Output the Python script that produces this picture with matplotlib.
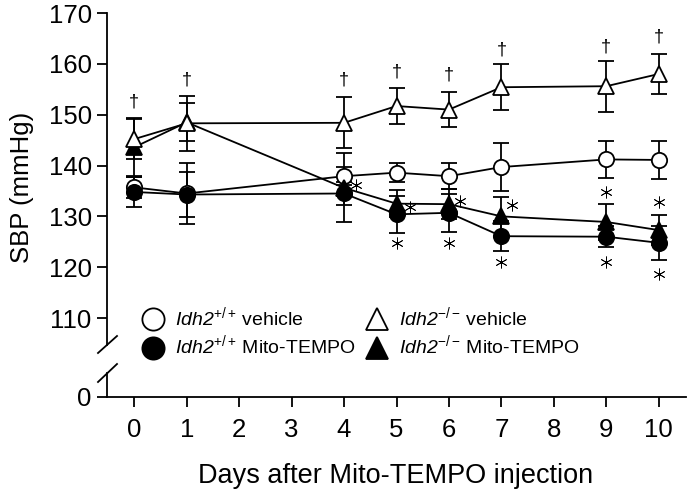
import matplotlib
matplotlib.use('Agg')
import matplotlib.pyplot as plt
from matplotlib.lines import Line2D

plt.rcParams['font.family'] = ['Liberation Sans', 'DejaVu Sans']
plt.rcParams['mathtext.fontset'] = 'custom'
plt.rcParams['mathtext.rm'] = 'Liberation Sans'
plt.rcParams['mathtext.sf'] = 'Liberation Sans:italic'

# Данные (SBP, mmHg)
days = [0, 1, 4, 5, 6, 7, 9, 10]
wt_vehicle = [135.7, 134.5, 137.9, 138.6, 137.9, 139.7, 141.2, 141.1]
wt_vehicle_err = [2.0, 6.0, 1.8, 1.9, 2.6, 4.8, 3.7, 3.7]
ko_vehicle = [145.2, 148.3, 148.4, 151.7, 151.0, 155.4, 155.6, 158.0]
ko_vehicle_err = [4.0, 5.4, 5.0, 3.6, 3.4, 4.5, 5.0, 3.9]
wt_mito = [134.8, 134.3, 134.5, 130.4, 130.7, 126.1, 126.0, 124.8]
wt_mito_err = [3.0, 4.5, 2.2, 3.7, 3.7, 2.9, 2.1, 3.3]
ko_mito = [143.6, 148.5, 135.6, 132.5, 132.4, 130.0, 128.9, 127.3]
ko_mito_err = [5.7, 3.7, 6.8, 2.7, 2.9, 3.8, 3.6, 2.9]

# значимость: † (ko vehicle), * (Mito-TEMPO)
dagger_days = [0, 1, 4, 5, 6, 7, 9, 10]
dagger_y = [152.5, 156.8, 156.8, 158.4, 157.8, 162.7, 163.4, 165.2]
star_x = [4.22, 5.25, 6.22, 7.21, 9, 10, 5, 6, 7, 9, 10]
star_y = [136.1, 131.9, 133.0, 132.2, 134.8, 132.9, 124.8, 124.7, 121.0, 121.0, 118.6]

xticks = list(range(0, 11))
yticks = [110, 120, 130, 140, 150, 160, 170]

W, H = 688, 490
def box(l, t, r, b):
    return [l / W, 1 - b / H, (r - l) / W, (b - t) / H]

fig = plt.figure(figsize=(W / 100, H / 100), dpi=100)
ax = fig.add_axes(box(107, 13, 686, 345))
axb = fig.add_axes(box(107, 373, 686, 397), sharex=ax)

lw = 1.3
series = [
    (wt_vehicle, wt_vehicle_err, 'o', 'white'),
    (wt_mito, wt_mito_err, 'o', 'black'),
    (ko_mito, ko_mito_err, '^', 'black'),
    (ko_vehicle, ko_vehicle_err, '^', 'white'),
]
for vals, err, m, fc in series:
    ax.errorbar(days, vals, yerr=err, fmt='none', ecolor='black',
                elinewidth=lw, capsize=6, capthick=lw, zorder=2)
for vals, err, m, fc in series:
    ax.plot(days, vals, color='black', lw=lw, marker=m, markersize=11,
            markerfacecolor=fc, markeredgecolor='black', markeredgewidth=lw,
            zorder=3)

for d, y in zip(dagger_days, dagger_y):
    ax.text(d, y, '\u2020', ha='center', va='center', fontsize=13)
# звёздочки - шестилучевой маркер
ax.plot(star_x, star_y, ls='none', marker=(6, 2, 0), markersize=8.5,
        markeredgewidth=0.6, color='black', zorder=4)

ax.set_xlim(-0.52, 10.52)
ax.set_ylim(104.7, 170)
ax.set_yticks(yticks)
ax.spines[['top', 'right', 'bottom']].set_visible(False)
ax.spines['left'].set_linewidth(lw)
ax.tick_params(axis='x', bottom=False, labelbottom=False)
ax.tick_params(axis='y', direction='out', length=7, width=lw, pad=4,
               labelsize=18.5)

axb.set_ylim(0, 5)
axb.set_yticks([0])
axb.set_xticks(xticks)
axb.spines[['top', 'right']].set_visible(False)
axb.spines[['left', 'bottom']].set_linewidth(lw)
axb.tick_params(axis='both', direction='out', length=7, width=lw,
                labelsize=18.5)
axb.tick_params(axis='x', pad=8)
axb.tick_params(axis='y', pad=4)
axb.patch.set_visible(False)

# разрыв оси
for y0, y1 in [(353, 336), (382, 364)]:
    fig.add_artist(Line2D([98 / W, 117 / W], [1 - y0 / H, 1 - y1 / H],
                          color='black', lw=lw, transform=fig.transFigure))

fig.text(22 / W, 1 - 187 / H, 'SBP (mmHg)', rotation=90, ha='center',
         va='center', fontsize=18.5)
fig.text(396 / W, 1 - 483 / H, 'Days after Mito-TEMPO injection',
         ha='center', va='baseline', fontsize=19.5)

handles = [
    Line2D([], [], ls='none', marker='o', ms=16, mfc='white', mec='black', mew=lw),
    Line2D([], [], ls='none', marker='o', ms=16, mfc='black', mec='black', mew=lw),
    Line2D([], [], ls='none', marker='^', ms=16, mfc='white', mec='black', mew=lw),
    Line2D([], [], ls='none', marker='^', ms=16, mfc='black', mec='black', mew=lw),
]
labels = [r'$\mathsf{Idh2}^{+/+}\/$vehicle', r'$\mathsf{Idh2}^{+/+}\/$Mito-TEMPO',
          r'$\mathsf{Idh2}^{-/-}\/$vehicle', r'$\mathsf{Idh2}^{-/-}\/$Mito-TEMPO']
ax.legend(handles, labels, ncol=2, loc='upper left',
          bbox_to_anchor=(141 / W, 1 - 305 / H), bbox_transform=fig.transFigure,
          frameon=False, fontsize=14, handlelength=1.2, handletextpad=0.55,
          columnspacing=0.5, labelspacing=0.22, borderpad=0, borderaxespad=0)

plt.savefig('out.png', dpi=100)
